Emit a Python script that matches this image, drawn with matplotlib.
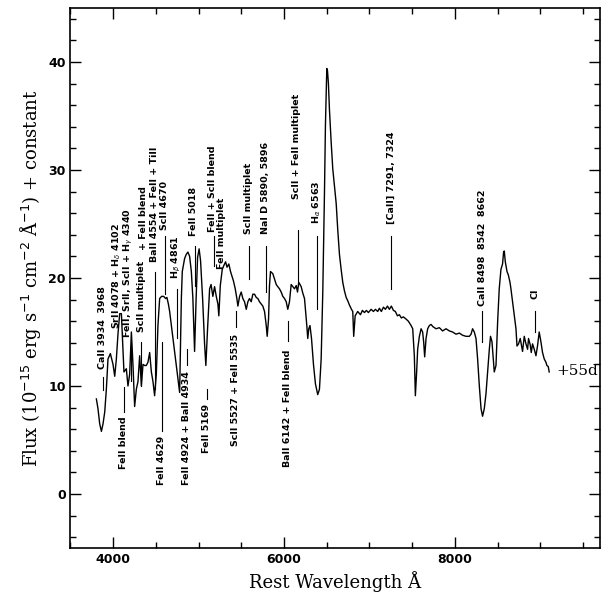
import numpy as np
import matplotlib.pyplot as plt
from matplotlib.ticker import MultipleLocator

# spectrum (rest wavelength in A, flux + constant)
wave = [3803, 3822, 3842, 3862, 3881, 3901, 3920, 3939, 3967, 3998,
        4018, 4037, 4056, 4076, 4096, 4115, 4126, 4154, 4173, 4193,
        4213, 4232, 4251, 4271, 4290, 4310, 4330, 4349, 4368, 4388,
        4407, 4427, 4447, 4466, 4485, 4505, 4524, 4544, 4567, 4591,
        4614, 4629, 4646, 4661, 4681, 4699, 4739, 4778, 4798, 4809,
        4836, 4856, 4875, 4895, 4915, 4933, 4953, 4971, 4988, 5006,
        5023, 5047, 5070, 5085, 5105, 5129, 5146, 5167, 5187, 5207,
        5226, 5237, 5254, 5277, 5298, 5316, 5333, 5354, 5374, 5390,
        5409, 5429, 5448, 5460, 5480, 5499, 5518, 5538, 5558, 5577,
        5596, 5616, 5635, 5655, 5675, 5694, 5713, 5733, 5752, 5772,
        5792, 5803, 5819, 5830, 5842, 5869, 5889, 5909, 5927, 5947,
        5967, 5986, 6006, 6026, 6044, 6064, 6084, 6103, 6123, 6143,
        6158, 6173, 6201, 6220, 6240, 6251, 6267, 6278, 6290, 6304,
        6322, 6345, 6368, 6395, 6415, 6435, 6454, 6474, 6485, 6501,
        6509, 6520, 6532, 6552, 6571, 6591, 6611, 6629, 6649, 6669,
        6688, 6708, 6728, 6746, 6766, 6790, 6805, 6816, 6833, 6863,
        6895, 6918, 6942, 6965, 6988, 7020, 7047, 7070, 7097, 7117,
        7140, 7164, 7187, 7211, 7234, 7257, 7281, 7304, 7328, 7351,
        7374, 7398, 7429, 7456, 7488, 7507, 7526, 7538, 7553, 7565,
        7585, 7605, 7623, 7635, 7647, 7663, 7682, 7702, 7722, 7743,
        7780, 7819, 7857, 7897, 7936, 7974, 8014, 8053, 8091, 8131,
        8170, 8190, 8208, 8228, 8248, 8267, 8287, 8307, 8325, 8345,
        8365, 8384, 8404, 8418, 8435, 8462, 8482, 8501, 8520, 8540,
        8559, 8571, 8579, 8591, 8611, 8626, 8646, 8657, 8676, 8696,
        8716, 8728, 8746, 8766, 8781, 8793, 8813, 8833, 8852, 8863,
        8883, 8895, 8910, 8930, 8950, 8968, 8988, 9008, 9027, 9047,
        9067, 9078, 9094, 9105]
flux = [8.8, 7.9, 6.5, 5.8, 6.5, 7.6, 9.7, 12.5, 13.0, 12.0,
        10.9, 12.5, 14.8, 16.7, 16.7, 13.4, 11.3, 11.6, 10.0, 11.1,
        15.0, 11.9, 8.1, 9.7, 10.4, 12.8, 10.0, 12.0, 11.9, 11.9,
        12.2, 13.1, 11.3, 10.4, 9.1, 11.1, 15.6, 18.1, 18.3, 18.3,
        18.1, 18.2, 17.6, 16.9, 15.6, 14.4, 11.9, 9.4, 18.1, 20.6,
        21.8, 22.2, 22.4, 22.0, 20.6, 18.1, 13.2, 18.1, 21.9, 22.7,
        21.6, 18.1, 13.9, 11.9, 15.3, 19.0, 19.4, 18.3, 19.2, 18.3,
        17.6, 16.5, 19.3, 20.8, 21.2, 21.5, 21.0, 21.3, 20.6, 20.2,
        19.7, 19.0, 18.1, 17.4, 18.3, 18.7, 18.1, 17.8, 17.1, 17.8,
        18.1, 17.8, 18.5, 18.5, 18.2, 18.1, 17.8, 17.6, 17.4, 16.9,
        15.6, 14.6, 16.2, 19.3, 20.6, 20.4, 19.9, 19.4, 19.2, 19.0,
        18.7, 18.3, 18.1, 17.8, 17.1, 17.8, 19.4, 19.2, 19.0, 19.3,
        18.7, 19.6, 19.2, 18.6, 18.1, 17.1, 15.6, 14.4, 15.3, 15.6,
        14.4, 12.0, 10.2, 9.2, 9.7, 12.5, 18.7, 28.0, 34.1, 39.4,
        39.2, 38.0, 35.6, 32.6, 30.1, 28.5, 26.9, 24.5, 22.2, 20.8,
        19.6, 18.8, 18.2, 17.9, 17.5, 17.1, 16.9, 14.6, 16.5, 16.9,
        16.6, 17.0, 16.8, 17.0, 16.8, 17.1, 16.9, 17.1, 16.9, 17.2,
        16.9, 17.3, 17.1, 17.4, 17.1, 17.4, 17.0, 16.9, 16.5, 16.6,
        16.3, 16.4, 16.2, 16.0, 15.6, 15.3, 12.8, 9.1, 11.3, 13.4,
        14.6, 15.3, 15.0, 14.1, 12.7, 14.4, 15.3, 15.6, 15.7, 15.5,
        15.3, 15.4, 15.1, 15.3, 15.1, 15.0, 14.8, 14.9, 14.7, 14.6,
        14.6, 14.8, 15.3, 15.0, 14.4, 12.5, 10.0, 7.9, 7.2, 7.9,
        9.3, 11.3, 13.4, 14.6, 14.1, 11.3, 11.9, 15.9, 19.0, 20.8,
        21.3, 22.4, 22.5, 21.5, 20.6, 20.3, 19.6, 19.0, 17.8, 16.5,
        15.3, 13.7, 13.9, 14.4, 13.7, 13.2, 14.6, 13.9, 13.4, 14.4,
        13.8, 13.1, 13.9, 13.4, 12.8, 13.7, 15.0, 14.1, 13.1, 12.5,
        12.2, 11.9, 11.8, 11.3]

# line identifications above the spectrum
up_names = ["CaII 3934  3968", r"SrII 4078 + H$_\delta$ 4102",
            r"FeII, SrII, ScII + H$_\gamma$ 4340", "ScII multiplet",
            "+ FeII blend", "BaII 4554 + FeII + TiII", "ScII 4670",
            r"H$_\beta$ 4861", "FeII 5018", "FeII + ScII blend",
            "FeII multiplet", "ScII multiplet", "NaI D 5890, 5896",
            "ScII + FeII multiplet", r"H$_\alpha$ 6563", "[CaII] 7291, 7324",
            "CaII 8498  8542  8662", "CI"]
up_text_x = [3877, 4041, 4180, 4330, 4360, 4485, 4602, 4743, 4942, 5164,
             5269, 5585, 5784, 6146, 6380, 7257, 8322, 8942]
up_text_y = [11.6, 15.3, 14.4, 15.0, 22.6, 21.5, 24.4, 19.9, 23.9, 24.3,
             20.8, 24.1, 24.1, 27.3, 25.0, 25.0, 17.4, 18.1]
up_tick_x = [3877, None, 4213, 4330, None, 4485, 4602, 4743, 4953, 5175,
             None, 5585, 5784, 6158, 6392, 7257, 8322, 8942]
up_tick_lo = [9.6, None, 10.5, 10.0, None, 9.7, 18.5, 14.4, 19.3, 21.1,
              None, 19.9, 18.7, 19.3, 17.1, 19.0, 14.1, 15.0]
up_tick_hi = [10.8, None, 13.8, 14.1, None, 20.6, 23.9, 19.0, 23.0, 23.9,
              None, 23.0, 23.0, 24.4, 23.9, 23.9, 16.9, 16.9]

# line identifications below the spectrum
down_names = ["FeII blend", "FeII 4629", "FeII 4924 + BaII 4934",
              "FeII 5169", "ScII 5527 + FeII 5535", "BaII 6142 + FeII blend"]
down_x = [4123, 4567, 4860, 5094, 5433, 6041]
down_text_y = [7.2, 5.4, 11.4, 8.3, 14.8, 13.4]
down_tick_lo = [7.6, 5.8, 11.9, 8.8, 15.5, 14.2]
down_tick_hi = [9.9, 14.1, 13.4, 9.7, 16.9, 16.0]

fig = plt.figure(figsize=(6.04, 6.07), dpi=100)
ax = fig.add_axes([0.1167, 0.0972, 0.8767, 0.8896])

ax.plot(wave, flux, color="black", lw=1.0)

lab_font = dict(family="DejaVu Sans", size=6.8, weight="semibold")
for name, tx, ty, kx, lo, hi in zip(up_names, up_text_x, up_text_y,
                                    up_tick_x, up_tick_lo, up_tick_hi):
    ax.text(tx, ty, name, rotation=90, ha="center", va="bottom", **lab_font)
    if kx is not None:
        ax.plot([kx, kx], [lo, hi], color="black", lw=0.8)

for name, kx, ty, lo, hi in zip(down_names, down_x, down_text_y,
                                down_tick_lo, down_tick_hi):
    ax.text(kx, ty, name, rotation=90, ha="center", va="top", **lab_font)
    ax.plot([kx, kx], [lo, hi], color="black", lw=0.8)

ax.text(9190, 11.4, "+55d", family="DejaVu Serif", size=11,
        ha="left", va="center")

ax.set_xlim(3500, 9700)
ax.set_ylim(-5, 45)
ax.xaxis.set_major_locator(MultipleLocator(2000))
ax.xaxis.set_minor_locator(MultipleLocator(500))
ax.yaxis.set_major_locator(MultipleLocator(10))
ax.yaxis.set_minor_locator(MultipleLocator(2))
ax.tick_params(which="both", direction="in", top=True, right=True,
               width=1.0, labelsize=9)
ax.tick_params(which="major", length=8)
ax.tick_params(which="minor", length=4)
for lbl in ax.get_xticklabels() + ax.get_yticklabels():
    lbl.set_fontweight("bold")
for sp in ax.spines.values():
    sp.set_linewidth(1.2)

ax.set_xlabel("Rest Wavelength Å", family="DejaVu Serif", size=13)
ax.set_ylabel(r"Flux (10$^{-15}$ erg s$^{-1}$ cm$^{-2}$ Å$^{-1}$) + constant",
              family="DejaVu Serif", size=13)

fig.savefig("out.png", dpi=100)
